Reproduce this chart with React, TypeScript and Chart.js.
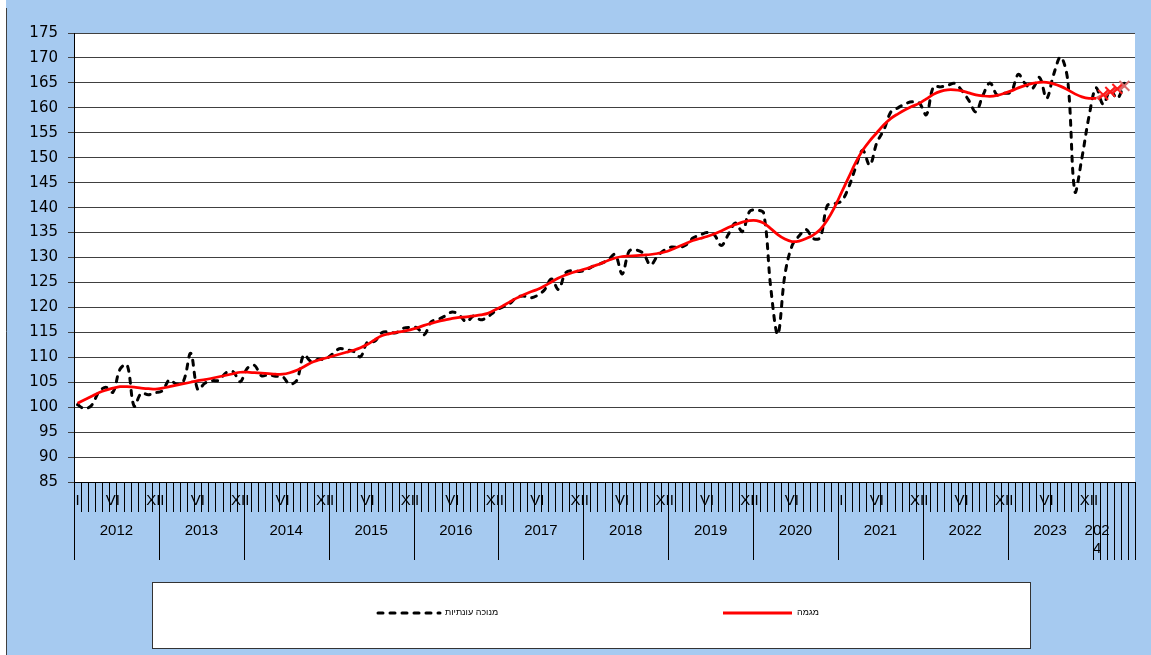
import React, { useEffect, useRef } from 'react';
import { Chart, registerables } from 'chart.js';

Chart.register(...registerables);

// ---- axis / category data ----
const years = ['2012', '2013', '2014', '2015', '2016', '2017', '2018', '2019', '2020', '2021', '2022', '2023', '2024'];
const monthsPerYear = [12, 12, 12, 12, 12, 12, 12, 12, 12, 12, 12, 12, 6];
// roman month label shown per category (empty = no label)
const romanLabels: string[] = [];
years.forEach((y, yi) => {
  for (let m = 0; m < monthsPerYear[yi]; m++) {
    let s = '';
    if (yi < 12) {
      if (m === 5) s = 'VI';
      else if (m === 11 && y !== '2020') s = 'XII';
      else if (m === 0 && (y === '2012' || y === '2021')) s = 'I';
    }
    romanLabels.push(s);
  }
});
const categories: string[] = [];
years.forEach((y, yi) => {
  for (let m = 0; m < monthsPerYear[yi]; m++) categories.push(`${y}-${m + 1}`);
});

const yMin = 85;
const yMax = 175;
const yStep = 5;

const legendLabels = ['מנוכה עונתיות', 'מגמה'];

// ---- series ----
const seasonallyAdjusted = [
  100.5, 99.7, 100.4, 103.0, 104.0, 103.0, 107.6, 108.5, 100.2, 102.8, 102.5, 102.9,
  103.3, 105.5, 104.6, 105.3, 110.8, 103.5, 104.8, 105.3, 105.4, 106.9, 107.1, 105.1,
  107.8, 108.4, 106.3, 106.5, 106.2, 106.1, 104.6, 105.4, 110.5, 109.2, 109.6, 109.6,
  110.6, 111.7, 111.5, 111.2, 110.1, 113.1, 113.2, 114.9, 115.1, 114.9, 115.8, 116.0,
  115.9, 114.5, 117.1, 117.6, 118.3, 119.1, 118.4, 117.1, 118.3, 117.5, 118.1, 119.2,
  120.0, 120.6, 121.9, 122.3, 121.9, 122.4, 123.5, 125.7, 123.6, 126.9, 127.4, 127.2,
  127.6, 128.3, 128.8, 129.5, 130.6, 126.7, 131.3, 131.5, 130.8, 128.5, 130.3, 131.5,
  132.1, 132.0, 132.5, 133.9, 134.5, 135.0, 134.6, 132.4, 134.6, 136.9, 135.2, 139.2,
  139.5, 138.9, 124.0, 114.6, 126.5, 132.3, 134.3, 135.6, 133.8, 134.0, 140.4, 140.8,
  141.3, 144.0, 148.0, 151.5, 148.5, 153.0, 155.6, 159.2, 160.0, 160.8, 161.2, 161.0,
  158.6, 164.2, 164.2, 164.5, 164.9, 163.5, 161.5, 159.2, 162.5, 165.0, 162.6, 162.9,
  163.2, 166.7, 164.8, 163.9, 166.1, 161.9, 166.7, 170.2, 165.4, 143.2, 150.0, 158.3,
  164.0, 160.7, 163.5, 161.9, 164.9,
];

const trend = [
  100.8, 101.5, 102.2, 102.9, 103.4, 103.8, 104.1, 104.1, 104.0, 103.8, 103.7, 103.6,
  103.8, 104.1, 104.4, 104.7, 105.0, 105.3, 105.5, 105.8, 106.1, 106.4, 106.7, 107.0,
  107.0, 106.9, 106.8, 106.7, 106.6, 106.6, 106.9, 107.4, 108.1, 108.9, 109.4, 109.8,
  110.2, 110.6, 111.0, 111.4, 111.9, 112.6, 113.5, 114.3, 114.7, 115.0, 115.2, 115.5,
  115.9, 116.4, 116.8, 117.2, 117.5, 117.8, 118.0, 118.1, 118.3, 118.5, 118.8, 119.5,
  120.2, 121.0, 121.8, 122.5, 123.1, 123.6, 124.3, 125.1, 125.9, 126.5, 127.0, 127.4,
  127.8, 128.3, 128.8, 129.4, 129.9, 130.2, 130.3, 130.4, 130.5, 130.6, 130.8, 131.1,
  131.6, 132.2, 132.8, 133.4, 133.8, 134.2, 134.7, 135.3, 136.0, 136.6, 137.1, 137.4,
  137.4, 136.9, 135.8, 134.6, 133.7, 133.2, 133.3, 133.8, 134.5, 135.6, 137.5, 140.0,
  143.0, 146.0, 149.0, 151.5, 153.4, 155.0, 156.6, 157.9, 158.8, 159.6, 160.3, 160.9,
  161.8, 162.7, 163.3, 163.6, 163.6, 163.4, 163.0, 162.6, 162.4, 162.3, 162.5, 162.9,
  163.4, 164.0, 164.5, 164.9, 165.1, 165.1, 164.8, 164.3, 163.6, 162.8, 162.2, 161.9,
  161.9,
];

// provisional trend (drawn with X markers), starting at category index 144
const trendProvisionalStart = 144;
const trendProvisional = [161.9, 162.6, 163.2, 163.8, 164.4];

function pad(values: number[], start: number, total: number): (number | null)[] {
  const out: (number | null)[] = new Array(total).fill(null);
  values.forEach((v, i) => (out[start + i] = v));
  return out;
}

const BLUE = '#A6CAF0';

const framePlugin = {
  id: 'frame',
  beforeDraw(chart: any) {
    const { ctx, width, height, chartArea: a } = chart;
    ctx.save();
    ctx.fillStyle = '#ffffff';
    ctx.fillRect(0, 0, width, height);
    ctx.fillStyle = BLUE;
    ctx.fillRect(6, 0, width - 6, height);
    ctx.strokeStyle = '#404040';
    ctx.lineWidth = 1;
    ctx.beginPath();
    ctx.moveTo(6.5, 8);
    ctx.lineTo(6.5, height);
    ctx.stroke();
    ctx.fillStyle = '#ffffff';
    ctx.fillRect(a.left, a.top, a.right - a.left, a.bottom - a.top);
    ctx.restore();
  },
  afterDraw(chart: any) {
    const { ctx, chartArea: a } = chart;
    const xs = chart.scales.x;
    const n = categories.length;
    const step = xs.getPixelForValue(1) - xs.getPixelForValue(0);
    const boundary = (i: number) => xs.getPixelForValue(0) - step / 2 + i * step;
    const bottom = a.bottom;

    const yearStarts: number[] = [];
    let acc = 0;
    monthsPerYear.forEach((m) => {
      yearStarts.push(acc);
      acc += m;
    });
    const lastYearStart = yearStarts[yearStarts.length - 1];

    ctx.save();
    ctx.strokeStyle = '#000';
    ctx.lineWidth = 1;
    ctx.beginPath();
    ctx.moveTo(a.left, Math.round(bottom) + 0.5);
    ctx.lineTo(a.right, Math.round(bottom) + 0.5);
    ctx.stroke();

    for (let i = 0; i <= n; i++) {
      const bx = Math.round(boundary(i)) + 0.5;
      const long = yearStarts.includes(i) || i >= lastYearStart;
      ctx.beginPath();
      ctx.moveTo(bx, bottom);
      ctx.lineTo(bx, bottom + (long ? 78 : 30));
      ctx.stroke();
    }

    ctx.fillStyle = '#000';
    ctx.font = '15px "Liberation Sans", Arial, sans-serif';
    ctx.textAlign = 'center';
    ctx.textBaseline = 'middle';
    romanLabels.forEach((s, i) => {
      if (!s) return;
      ctx.fillText(s, xs.getPixelForValue(i), bottom + 19);
    });

    years.forEach((y, yi) => {
      const s = yearStarts[yi];
      const e = s + monthsPerYear[yi];
      const w = boundary(e) - boundary(s);
      if (ctx.measureText(y).width > w - 12) {
        const cx = xs.getPixelForValue(s);
        ctx.fillText(y.slice(0, 3), cx + 1, bottom + 49);
        ctx.fillText(y.slice(3), cx + 1, bottom + 67);
      } else {
        ctx.fillText(y, (boundary(s) + boundary(e)) / 2, bottom + 49);
      }
    });

    // legend box
    ctx.fillStyle = '#ffffff';
    ctx.fillRect(152, 582, 878, 66);
    ctx.strokeStyle = '#333';
    ctx.lineWidth = 1;
    ctx.strokeRect(152.5, 582.5, 878, 66);

    const ly = 613;
    ctx.lineWidth = 3;
    ctx.strokeStyle = '#000';
    ctx.setLineDash([5, 7]);
    ctx.lineCap = 'round';
    ctx.beginPath();
    ctx.moveTo(378, ly);
    ctx.lineTo(440, ly);
    ctx.stroke();
    ctx.setLineDash([]);
    ctx.lineCap = 'butt';
    ctx.strokeStyle = '#FF0000';
    ctx.beginPath();
    ctx.moveTo(723, ly);
    ctx.lineTo(792, ly);
    ctx.stroke();

    ctx.fillStyle = '#000';
    ctx.font = '9px "Liberation Sans", "DejaVu Sans", sans-serif';
    ctx.textAlign = 'left';
    ctx.textBaseline = 'middle';
    ctx.fillText(legendLabels[0], 445, ly);
    ctx.fillText(legendLabels[1], 797, ly);
    ctx.restore();
  },
};

export default function App() {
  const ref = useRef<HTMLCanvasElement | null>(null);

  useEffect(() => {
    if (!ref.current) return;
    const total = categories.length;
    const chart = new Chart(ref.current, {
      type: 'line',
      data: {
        labels: categories,
        datasets: [
          {
            label: legendLabels[1],
            data: pad(trend, 0, total),
            borderColor: '#FF0000',
            borderWidth: 2.75,
            pointRadius: 0,
            tension: 0.35,
            fill: false,
          },
          {
            label: 'provisional',
            data: pad(trendProvisional, trendProvisionalStart, total),
            borderColor: '#E85C5C',
            borderWidth: 2.75,
            pointStyle: 'crossRot',
            pointRadius: (c: any) => (c.dataIndex > trendProvisionalStart ? 7 : 0),
            pointBorderColor: (c: any) => (c.dataIndex >= total - 2 ? '#D86A6A' : '#FF1A1A'),
            pointBorderWidth: 2,
            tension: 0.35,
            fill: false,
          },
          {
            label: legendLabels[0],
            data: pad(seasonallyAdjusted, 0, total),
            borderColor: '#000000',
            borderWidth: 3,
            borderDash: [5, 7],
            borderCapStyle: 'round',
            pointRadius: 0,
            tension: 0.35,
            fill: false,
          },
        ],
      },
      options: {
        responsive: false,
        animation: false,
        events: [],
        layout: { padding: { left: 0, right: 16, top: 33, bottom: 173 } },
        plugins: {
          legend: { display: false },
          tooltip: { enabled: false },
        },
        scales: {
          x: {
            type: 'category',
            display: false,
            offset: true,
          },
          y: {
            min: yMin,
            max: yMax,
            ticks: {
              stepSize: yStep,
              color: '#000',
              padding: 10,
              font: { family: '"DejaVu Sans", sans-serif', size: 15 },
            },
            grid: { color: '#404040', lineWidth: 1, tickLength: 6, drawTicks: true },
            border: { display: true, color: '#000', width: 1 },
            afterFit: (s: any) => {
              s.width = 74;
            },
          },
        },
      },
      plugins: [framePlugin],
    });
    return () => chart.destroy();
  }, []);

  return (
    <div style={{ position: 'absolute', left: 0, top: 0, width: 1151, height: 655 }}>
      <canvas ref={ref} width={1151} height={655} style={{ display: 'block' }} />
    </div>
  );
}
